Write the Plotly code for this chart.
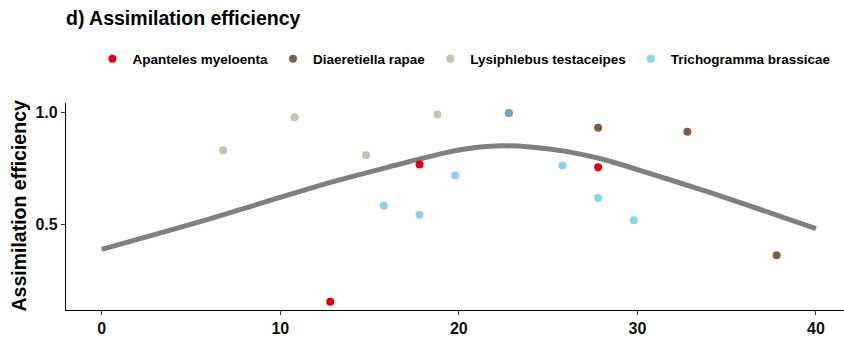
import plotly.graph_objects as go

# Data
apanteles_x = [12.8, 17.8, 27.8]
apanteles_y = [0.155, 0.768, 0.755]

diaeretiella_x = [22.8, 27.8, 32.8, 37.8]
diaeretiella_y = [0.997, 0.932, 0.914, 0.362]

lysiphlebus_x = [6.8, 10.8, 14.8, 18.8]
lysiphlebus_y = [0.831, 0.978, 0.809, 0.991]

trichogramma_x = [15.8, 17.8, 19.8, 22.8, 25.8, 27.8, 29.8]
trichogramma_y = [0.583, 0.543, 0.718, 0.997, 0.763, 0.618, 0.519]

fit_x = [0, 2, 4, 6, 8, 10, 12, 14, 16, 18, 20, 22, 24, 26, 28, 30, 32, 34, 36, 38, 40]
fit_y = [0.389, 0.433, 0.478, 0.524, 0.572, 0.621, 0.669, 0.713, 0.755, 0.796, 0.832,
         0.850, 0.846, 0.826, 0.792, 0.745, 0.695, 0.644, 0.591, 0.536, 0.481]

x_ticks = [0, 10, 20, 30, 40]
y_ticks = [0.5, 1.0]
y_tick_labels = ["0.5", "1.0"]

FONT = "Liberation Sans, Arial, sans-serif"

fig = go.Figure()

fig.add_trace(go.Scatter(x=fit_x, y=fit_y, mode="lines", line=dict(color="#808080", width=5, shape="spline"),
                         showlegend=False, hoverinfo="skip"))

series = [
    ("Apanteles myeloenta", apanteles_x, apanteles_y, "#E6000A", 1.0),
    ("Diaeretiella rapae", diaeretiella_x, diaeretiella_y, "#7D5F49", 1.0),
    ("Lysiphlebus testaceipes", lysiphlebus_x, lysiphlebus_y, "#CBBFB1", 1.0),
    ("Trichogramma brassicae", trichogramma_x, trichogramma_y, "#66C3E0", 0.75),
]
for name, xs, ys, col, op in series:
    fig.add_trace(go.Scatter(x=xs, y=ys, mode="markers", name="<b>" + name + "</b>",
                             marker=dict(color=col, size=8, opacity=op, line=dict(width=0))))

fig.update_layout(
    width=844, height=338,
    margin=dict(l=66, r=0, t=103, b=28, autoexpand=False),
    paper_bgcolor="white", plot_bgcolor="white",
    font=dict(family=FONT, color="#000000"),
    title=dict(text="<b>d) Assimilation efficiency</b>", x=66/844, xanchor="left",
               y=1 - 18/338, yanchor="middle", font=dict(size=19.5, family=FONT, color="#000000")),
    legend=dict(orientation="h", x=0.034, xanchor="left", y=1 + (103-59)/207, yanchor="middle",
                font=dict(size=13.5, family=FONT, color="#000000"), bgcolor="rgba(0,0,0,0)"),
    showlegend=True,
)

fig.update_xaxes(range=[-2, 41.57], tickvals=x_ticks, ticktext=["<b>%d</b>" % v for v in x_ticks],
                 showline=True, linecolor="#000000", linewidth=1.2, ticks="outside", ticklen=4,
                 tickcolor="#333333", tickwidth=1.2, showgrid=False, zeroline=False,
                 tickfont=dict(size=16, family=FONT, color="#111111"))
fig.update_yaxes(range=[0.118, 1.042], tickvals=y_ticks, ticktext=["<b>%s</b>" % t for t in y_tick_labels],
                 showline=True, linecolor="#000000", linewidth=1.2, ticks="outside", ticklen=4,
                 tickcolor="#333333", tickwidth=1.2, showgrid=False, zeroline=False,
                 tickfont=dict(size=16, family=FONT, color="#111111"))

fig.add_annotation(text="<b>Assimilation efficiency</b>", xref="paper", yref="paper",
                   x=(18-66)/778, y=0.5, xanchor="center", yanchor="middle", textangle=-90,
                   showarrow=False, font=dict(size=19.5, family=FONT, color="#000000"))

fig.write_html("out.html")
